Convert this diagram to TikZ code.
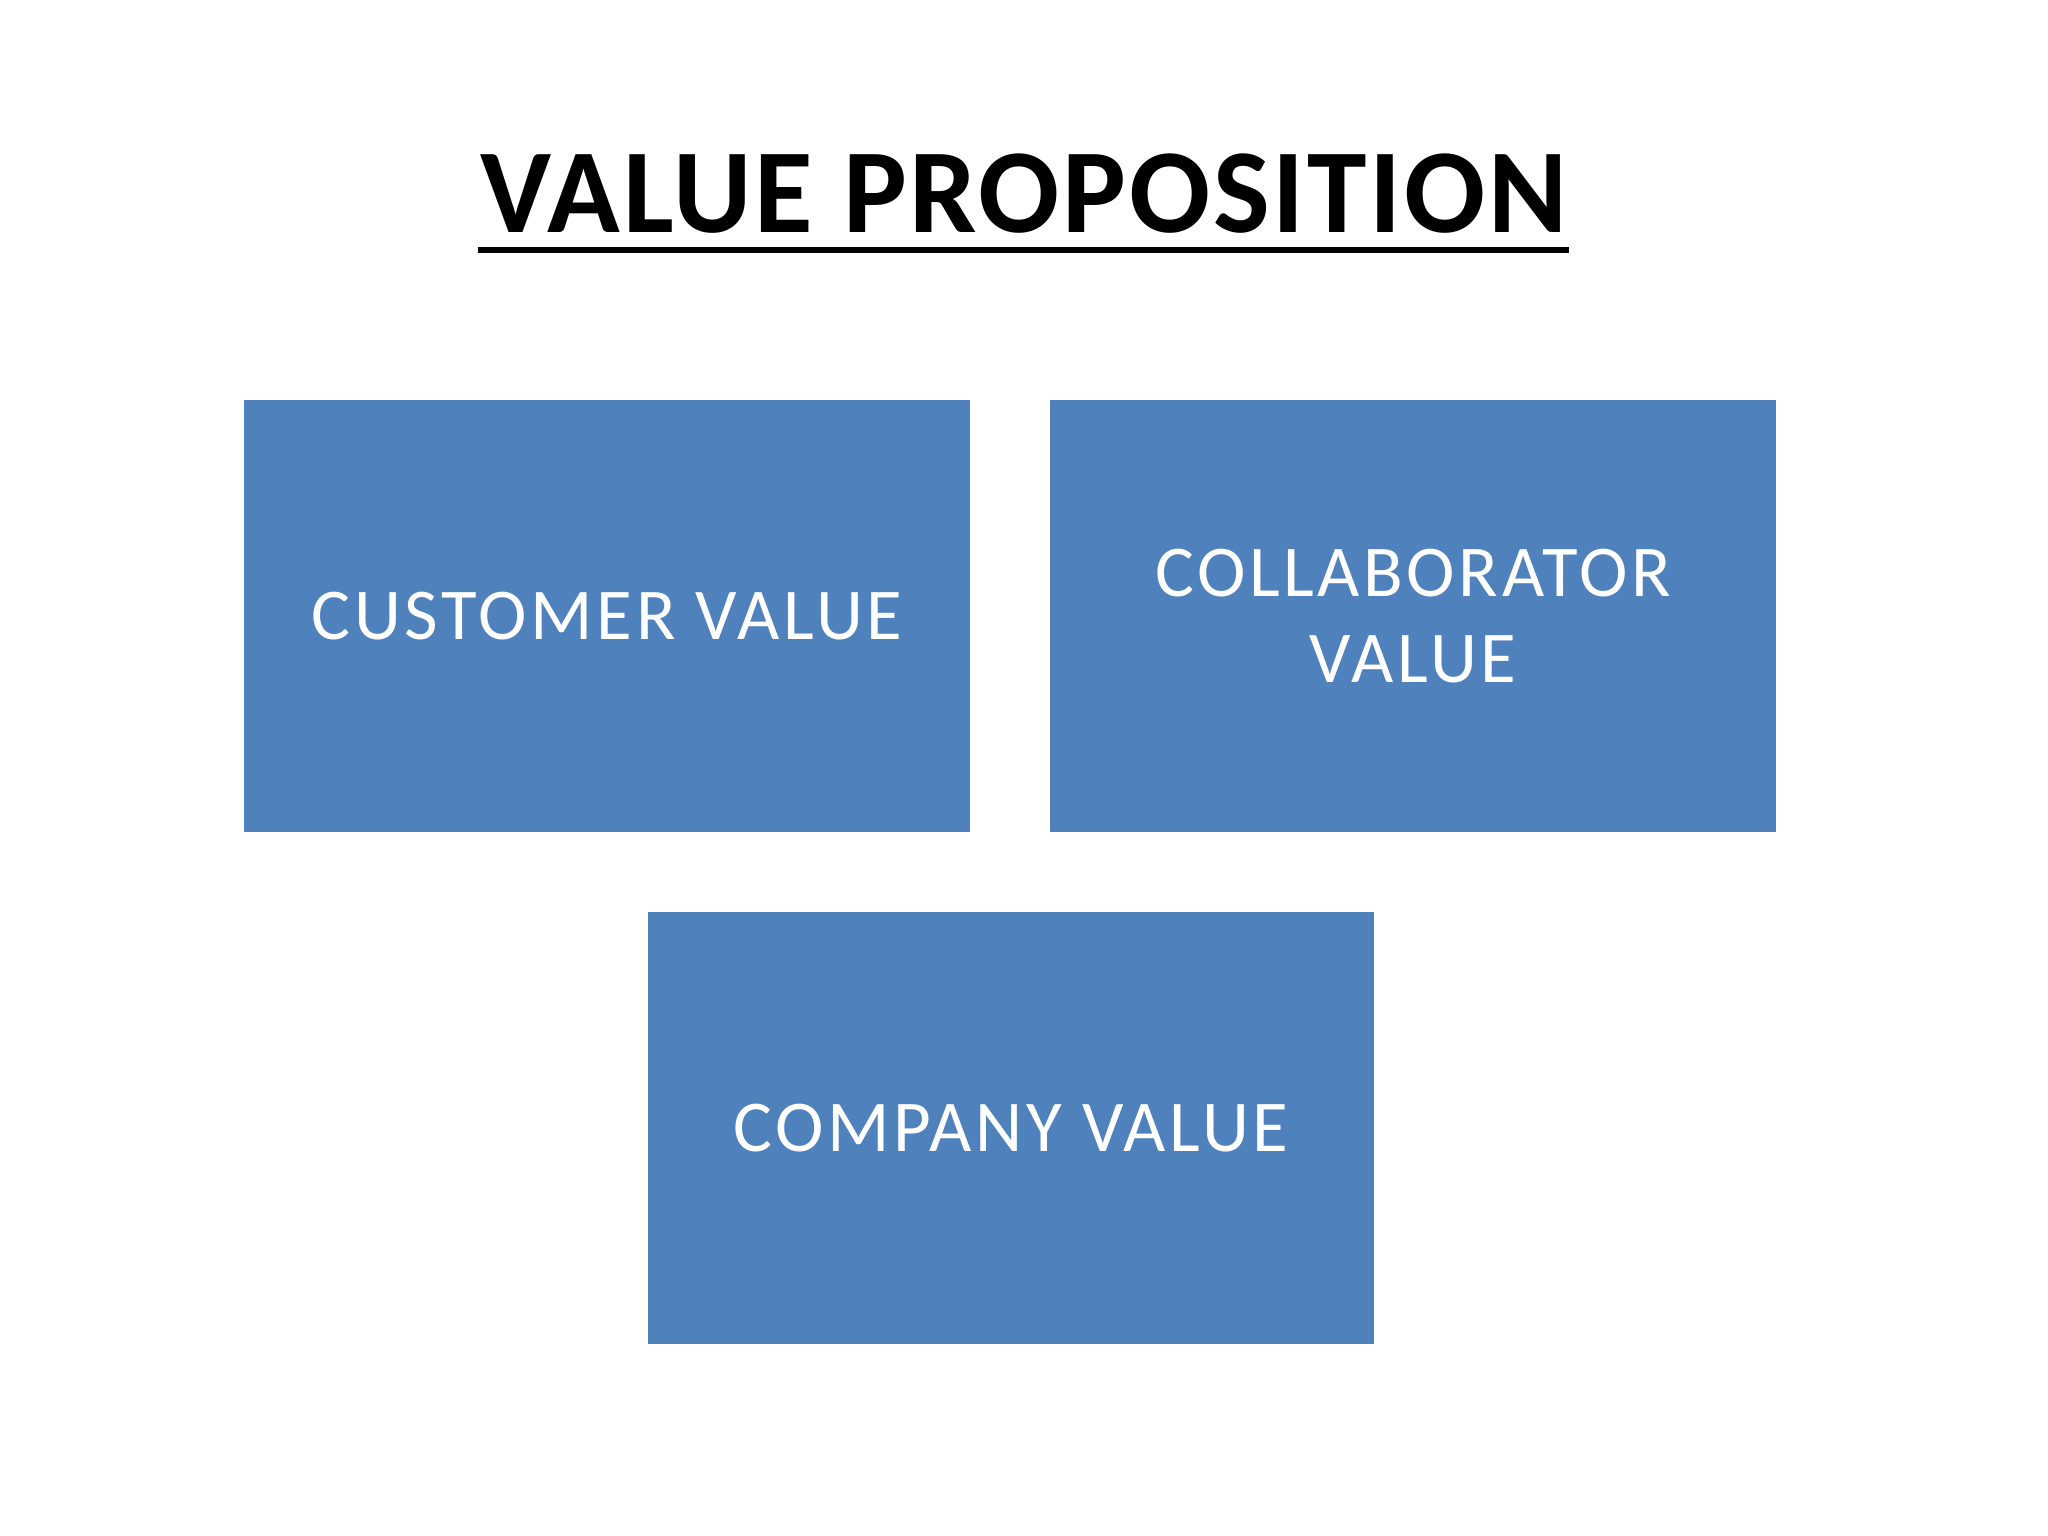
\documentclass[tikz,border=0pt]{standalone}
\usepackage{fontspec}
\setmainfont{Carlito}
\definecolor{boxblue}{HTML}{4F81BD}
\tikzset{
  vbox/.style={fill=boxblue, draw=none, minimum width=726pt, minimum height=432pt, inner sep=0pt,
    text=white, font=\fontsize{73}{86}\selectfont\addfontfeature{LetterSpace=5}, align=center, anchor=north west},
}
\begin{document}
\begin{tikzpicture}[x=1pt,y=-1pt]
\useasboundingbox (0,0) rectangle (2048,1536);
\fill[white] (0,0) rectangle (2048,1536);
\node[font=\bfseries\fontsize{120}{130}\selectfont\addfontfeature{LetterSpace=2.3}, anchor=base, inner sep=0pt] (title) at (1024,232) {VALUE PROPOSITION};
\coordinate (ul1) at (478,250);
\coordinate (ul2) at (1569,250);
\draw[line width=6pt] (ul1) -- (ul2);
\node[vbox] (cust) at (244,400) {CUSTOMER VALUE};
\node[vbox] (coll) at (1050,400) {COLLABORATOR\\VALUE};
\node[vbox] (comp) at (648,912) {COMPANY VALUE};
\end{tikzpicture}
\end{document}
